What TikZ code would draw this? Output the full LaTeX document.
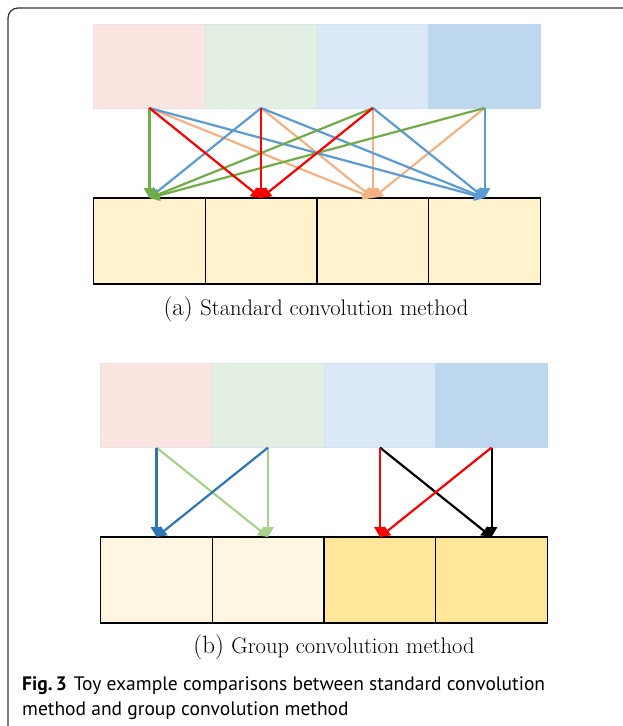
\documentclass[tikz,border=0pt]{standalone}
\usepackage{fontspec}
\newfontfamily\capfont{PT Sans}
\usetikzlibrary{arrows.meta}
\definecolor{cpink}{HTML}{FBE5E1}
\definecolor{cgreen}{HTML}{E2EFE2}
\definecolor{clblue}{HTML}{DAE8F7}
\definecolor{cblue}{HTML}{BDD7EE}
\definecolor{cyel}{HTML}{FFF2CC}
\definecolor{ccream}{HTML}{FEF6E1}
\definecolor{cgold}{HTML}{FFE699}
\definecolor{agreen}{HTML}{70AD47}
\definecolor{ared}{HTML}{FF0000}
\definecolor{apeach}{HTML}{F4B183}
\definecolor{ablue}{HTML}{5B9BD5}
\definecolor{bblue}{HTML}{2E75B6}
\definecolor{bgreen}{HTML}{A9D18E}
\definecolor{frame}{HTML}{333333}
\begin{document}
\begin{tikzpicture}[x=1pt,y=-1pt,
  inbox/.style={draw=#1!70!cblue, line width=0.8pt, fill=#1, minimum width=111.75pt, minimum height=84pt, inner sep=0pt, outer sep=0pt},
  outbox/.style={draw=black, line width=1.4pt, fill=#1, minimum width=111.75pt, minimum height=86pt, inner sep=0pt, outer sep=0pt},
  conn/.style={draw=#1, line width=2.2pt, -{Triangle[length=10pt,width=11pt]}},
  sublabel/.style={font=\fontsize{25}{28}\selectfont, inner sep=0pt},
  figcap/.style={font=\capfont\fontsize{19.5}{25}\selectfont, inner sep=0pt, anchor=base west}
]
\useasboundingbox (0,0) rectangle (622,726);
% frame
\draw[frame, line width=1.2pt, rounded corners=10pt] (640,8) -- (8,8) -- (8,740);

% ---- (a) ----
\node[inbox=cpink]  (a1) at (149.4,66) {};
\node[inbox=cgreen] (a2) at (261.1,66) {};
\node[inbox=clblue] (a3) at (372.9,66) {};
\node[inbox=cblue]  (a4) at (484.6,66) {};
\node[outbox=cyel] (b1) at (149.4,241) {};
\node[outbox=cyel] (b2) at (261.1,241) {};
\node[outbox=cyel] (b3) at (372.9,241) {};
\node[outbox=cyel] (b4) at (484.6,241) {};

\draw[conn=apeach] (a1.south) -- (b3.north);
\draw[conn=apeach] (a2.south) -- (b3.north);
\draw[conn=apeach] (a3.south) -- (b3.north);
\draw[conn=apeach] (a4.south) -- (b3.north);
\draw[conn=ablue] (a1.south) -- (b4.north);
\draw[conn=ablue] (a2.south) -- (b4.north);
\draw[conn=ablue] (a3.south) -- (b4.north);
\draw[conn=ablue] (a4.south) -- (b4.north);
\draw[conn=ablue] (a2.south) -- (b1.north);
\draw[conn=agreen] (a1.south) -- (b1.north);
\draw[conn=agreen] (a3.south) -- (b1.north);
\draw[conn=agreen] (a4.south) -- (b1.north);
\draw[conn=ared] (a1.south) -- (b2.north);
\draw[conn=ared] (a2.south) -- (b2.north);
\draw[conn=ared] (a3.south) -- (b2.north);

\node[sublabel] (capa) at (316,309) {(a)~\fontsize{22.5}{26}\selectfont Standard convolution method};

% ---- (b) ----
\node[inbox=cpink]  (c1) at (156.4,405.5) {};
\node[inbox=cgreen] (c2) at (268.1,405.5) {};
\node[inbox=clblue] (c3) at (379.9,405.5) {};
\node[inbox=cblue]  (c4) at (491.6,405.5) {};
\node[outbox=ccream] (d1) at (156.4,580) {};
\node[outbox=ccream] (d2) at (268.1,580) {};
\node[outbox=cgold]  (d3) at (379.9,580) {};
\node[outbox=cgold]  (d4) at (491.6,580) {};

\draw[conn=bgreen] (c1.south) -- (d2.north);
\draw[conn=bgreen] (c2.south) -- (d2.north);
\draw[conn=bblue] (c1.south) -- (d1.north);
\draw[conn=bblue] (c2.south) -- (d1.north);
\draw[conn=black] (c3.south) -- (d4.north);
\draw[conn=black] (c4.south) -- (d4.north);
\draw[conn=ared] (c3.south) -- (d3.north);
\draw[conn=ared] (c4.south) -- (d3.north);

\node[sublabel] (capb) at (334,647) {(b)~\fontsize{22.5}{26}\selectfont Group convolution method};

% ---- figure caption ----
\node[figcap] (fig1) at (22,690) {\textbf{Fig.\,3}\hspace{7pt}Toy example comparisons between standard convolution};
\node[figcap] (fig2) at (22,715) {method and group convolution method};
\end{tikzpicture}
\end{document}
